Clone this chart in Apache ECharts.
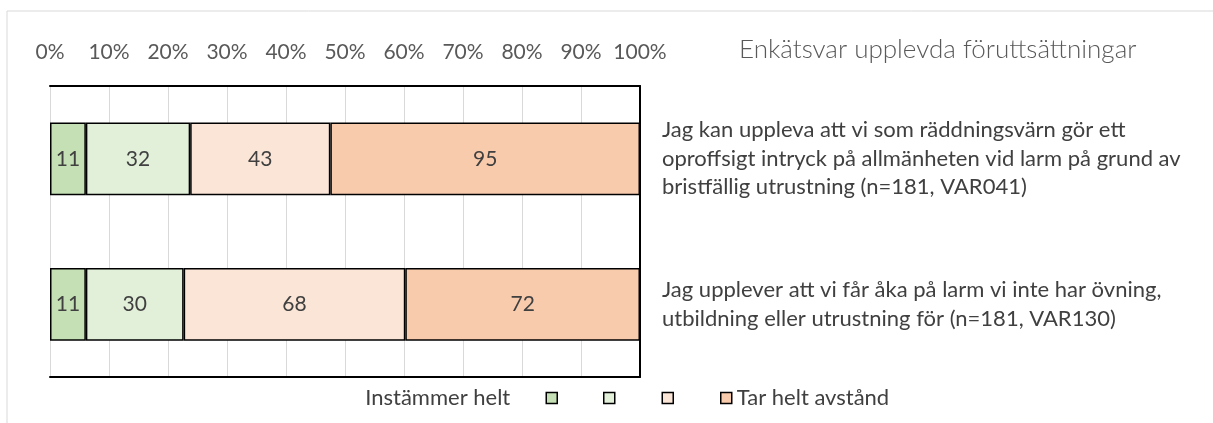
<!DOCTYPE html>
<html>
<head>
<meta charset="utf-8">
<script src="https://cdn.jsdelivr.net/npm/echarts@6/dist/echarts.min.js"></script>
<style>
 html, body { margin: 0; padding: 0; background: #fff; }
 #main { width: 1213px; height: 423px; }
</style>
</head>
<body>
<div id="main"></div>
<script>
 // frågor (uppifrån och ned)
 var categories = [
   'Jag kan uppleva att vi som räddningsvärn gör ett\noproffsigt intryck på allmänheten vid larm på grund av\nbristfällig utrustning (n=181, VAR041)',
   'Jag upplever att vi får åka på larm vi inte har övning,\nutbildning eller utrustning för (n=181, VAR130)'
 ];
 var seriesNames = ['Instämmer helt', ' ', '  ', 'Tar helt avstånd'];
 // antal svar per svarsalternativ
 var s1 = [11, 11];
 var s2 = [32, 30];
 var s3 = [43, 68];
 var s4 = [95, 72];
 var tickLabels = ['0%', '10%', '20%', '30%', '40%', '50%', '60%', '70%', '80%', '90%', '100%'];
 var colors = ['#C5E0B4', '#E2F0D9', '#FBE5D6', '#F8CBAD'];

 var raw = [s1, s2, s3, s4];
 var totals = categories.map(function (c, i) {
   return raw.reduce(function (a, s) { return a + s[i]; }, 0);
 });

 var fontFam = 'Lato, "Open Sans", sans-serif';
 var myChart = echarts.init(document.getElementById('main'));

 var series = raw.map(function (vals, k) {
   return {
     name: seriesNames[k],
     type: 'bar',
     stack: 'tot',
     barWidth: '50%',
     itemStyle: { color: colors[k], borderColor: '#000', borderWidth: 1.5 },
     label: {
       show: true,
       position: 'inside',
       fontFamily: fontFam,
       fontSize: 21,
       color: '#404040',
       formatter: function (p) { return vals[p.dataIndex]; }
     },
     data: vals.map(function (v, i) { return v / totals[i] * 100; })
   };
 });

 var option = {
   animation: false,
   title: {
     text: 'Enkätsvar upplevda föruttsättningar',
     left: 739,
     top: 37,
     padding: 0,
     textStyle: { fontFamily: fontFam, fontSize: 26, fontWeight: 300, color: '#595959' }
   },
   grid: { left: 50, right: 573, top: 86, bottom: 46 },
   legend: [
     {
       data: [seriesNames[0]],
       align: 'right',
       right: 655,
       top: 387,
       padding: 0,
       itemWidth: 11,
       itemHeight: 11,
       icon: 'rect',
       itemStyle: { borderColor: '#000', borderWidth: 1.5 },
       textStyle: { fontFamily: fontFam, fontSize: 22, color: '#404040', padding: [0, 31, 0, 0] }
     },
     {
       data: seriesNames.slice(1),
       left: 603,
       top: 387,
       padding: 0,
       itemWidth: 11,
       itemHeight: 11,
       itemGap: 46,
       icon: 'rect',
       itemStyle: { borderColor: '#000', borderWidth: 1.5 },
       formatter: function (n) { return n.trim(); },
       textStyle: { fontFamily: fontFam, fontSize: 22, color: '#404040' }
     }
   ],
   xAxis: [
     {
       type: 'value',
       position: 'top',
       min: 0,
       max: 100,
       interval: 10,
       axisLine: { show: true, onZero: false, lineStyle: { color: '#000', width: 2 } },
       axisTick: { show: false },
       splitLine: { show: true, lineStyle: { color: '#D9D9D9', width: 1 } },
       axisLabel: {
         margin: 23,
         fontFamily: fontFam,
         fontSize: 21,
         color: '#595959',
         formatter: function (v) { return tickLabels[Math.round(v / 10)]; }
       }
     },
     {
       type: 'value',
       position: 'bottom',
       min: 0,
       max: 100,
       axisLine: { show: true, onZero: false, lineStyle: { color: '#000', width: 2 } },
       axisTick: { show: false },
       axisLabel: { show: false },
       splitLine: { show: false }
     }
   ],
   yAxis: {
     type: 'category',
     position: 'right',
     inverse: true,
     data: categories,
     axisLine: { show: true, onZero: false, lineStyle: { color: '#000', width: 2 } },
     axisTick: { show: false },
     axisLabel: {
       margin: 22,
       align: 'left',
       fontFamily: fontFam,
       fontSize: 22,
       lineHeight: 28.5,
       color: '#404040'
     }
   },
   graphic: [
     { type: 'line', shape: { x1: 7, y1: 11, x2: 1213, y2: 11 }, style: { stroke: '#D9D9D9', lineWidth: 1 } },
     { type: 'line', shape: { x1: 7, y1: 11, x2: 7, y2: 423 }, style: { stroke: '#D9D9D9', lineWidth: 1 } }
   ],
   series: series
 };

 myChart.setOption(option);
</script>
</body>
</html>
